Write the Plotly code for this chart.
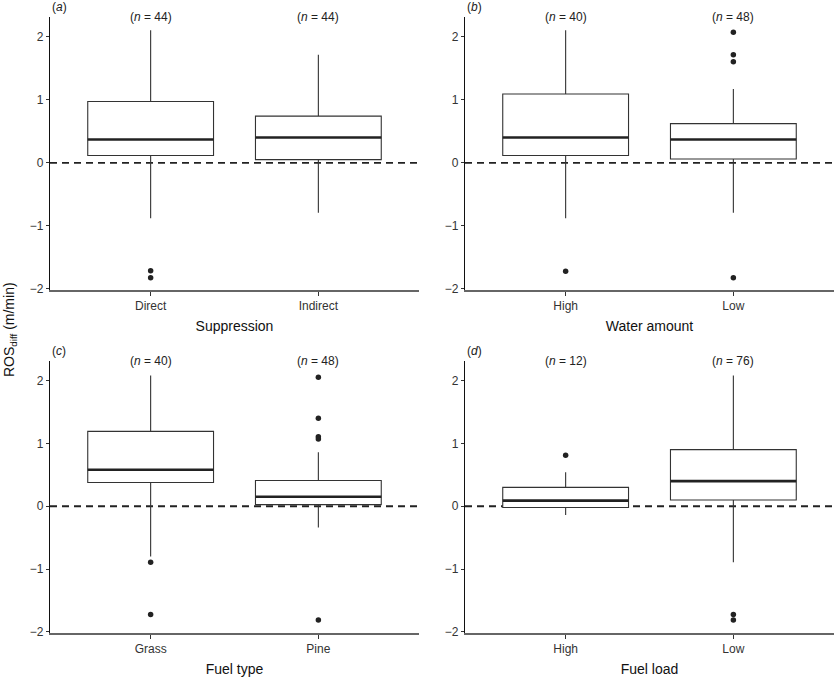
import plotly.graph_objects as go

# ---------------- data ----------------
panel_labels = ["(a)", "(b)", "(c)", "(d)"]
x_titles = ["Suppression", "Water amount", "Fuel type", "Fuel load"]
categories = [["Direct", "Indirect"], ["High", "Low"], ["Grass", "Pine"], ["High", "Low"]]
n_counts = [[44, 44], [40, 48], [40, 48], [12, 76]]
q1 = [[0.115, 0.05], [0.115, 0.06], [0.377, 0.026], [-0.02, 0.10]]
medians = [[0.37, 0.40], [0.40, 0.37], [0.58, 0.15], [0.09, 0.40]]
q3 = [[0.97, 0.74], [1.09, 0.62], [1.19, 0.41], [0.30, 0.90]]
lower_whisker = [[-0.88, -0.79], [-0.88, -0.79], [-0.80, -0.34], [-0.14, -0.89]]
upper_whisker = [[2.10, 1.71], [2.10, 1.17], [2.08, 0.86], [0.54, 2.08]]
outliers = [
    [[-1.71, -1.82], []],
    [[-1.72], [2.07, 1.71, 1.60, -1.82]],
    [[-0.89, -1.72], [2.05, 1.40, 1.105, 1.07, -1.81]],
    [[0.81], [-1.72, -1.81]],
]
y_ticks = [-2, -1, 0, 1, 2]
y_tick_text = ["\u22122", "\u22121", "0", "1", "2"]

# ---------------- layout constants ----------------
W, H = 835, 677
FONT = "Liberation Sans, Arial, Helvetica, sans-serif"
BOX_W = 0.75
x_dom = [[50 / W, 419 / W], [465 / W, 834 / W]]
y_dom = [[1 - 290 / H, 1 - 17 / H], [1 - 633 / H, 1 - 361 / H]]

fig = go.Figure()
layout = dict(
    width=W, height=H,
    margin=dict(l=0, r=0, t=0, b=0),
    plot_bgcolor="white", paper_bgcolor="white",
    showlegend=False,
    font=dict(family=FONT, size=12, color="#333"),
    annotations=[], shapes=[],
)

for i in range(4):
    row, col = divmod(i, 2)
    ax = "" if i == 0 else str(i + 1)
    xa, ya = "x" + ax, "y" + ax
    positions = [1, 2]
    for j, p in enumerate(positions):
        fig.add_trace(go.Box(
            x=[p], q1=[q1[i][j]], median=[medians[i][j]], q3=[q3[i][j]],
            lowerfence=[lower_whisker[i][j]], upperfence=[upper_whisker[i][j]],
            width=BOX_W, fillcolor="white", line=dict(color="#333", width=1.1),
            boxpoints=False, whiskerwidth=0, hoverinfo="skip",
            xaxis=xa, yaxis=ya,
        ))
        fig.add_trace(go.Scatter(
            x=[p - BOX_W / 2, p + BOX_W / 2], y=[medians[i][j], medians[i][j]],
            mode="lines", line=dict(color="#222", width=2.6),
            xaxis=xa, yaxis=ya, hoverinfo="skip",
        ))
        if outliers[i][j]:
            fig.add_trace(go.Scatter(
                x=[p] * len(outliers[i][j]), y=outliers[i][j], mode="markers",
                marker=dict(color="#222", size=5.5), xaxis=xa, yaxis=ya,
                hoverinfo="skip",
            ))
        layout["annotations"].append(dict(
            text=f"(<i>n</i> = {n_counts[i][j]})", x=p, y=1, xref=xa,
            yref=f"{ya} domain", yanchor="middle", showarrow=False,
            font=dict(size=12, color="#222", family=FONT),
        ))
    # panel label
    layout["annotations"].append(dict(
        text=f"(<i>{panel_labels[i][1]}</i>)", x=0, y=1, xref=f"{xa} domain",
        yref=f"{ya} domain", xanchor="left", yanchor="bottom", yshift=1,
        showarrow=False, font=dict(size=12, color="#222", family=FONT),
    ))
    # zero reference line
    layout["shapes"].append(dict(
        type="line", xref=f"{xa} domain", x0=0, x1=1, yref=ya, y0=0, y1=0,
        line=dict(color="#222", width=1.8, dash="7px,5px"), layer="below",
    ))
    layout["xaxis" + ax] = dict(
        domain=x_dom[col], anchor=ya, range=[0.4, 2.6],
        tickvals=positions, ticktext=categories[i],
        showline=True, linecolor="#666", linewidth=1.6,
        ticks="outside", ticklen=4, tickcolor="#333", tickwidth=1,
        showgrid=False, zeroline=False, automargin=False,
        tickfont=dict(size=12, color="#333", family=FONT),
        title=dict(text=x_titles[i], standoff=9,
                   font=dict(size=14, color="#111", family=FONT)),
    )
    layout["yaxis" + ax] = dict(
        domain=y_dom[row], anchor=xa, range=[-2.016, 2.31],
        tickvals=y_ticks, ticktext=y_tick_text,
        showline=True, linecolor="#111", linewidth=1.1,
        ticks="outside", ticklen=3, tickcolor="#333", tickwidth=1,
        showgrid=False, zeroline=False, automargin=False,
        tickfont=dict(size=12, color="#333", family=FONT),
    )

layout["annotations"].append(dict(
    text="ROS<sub>diff</sub> (m/min)", x=10 / W, y=1 - 330 / H, xref="paper",
    yref="paper", textangle=-90, showarrow=False, xanchor="center",
    yanchor="middle", font=dict(size=14, color="#111", family=FONT),
))

fig.update_layout(**layout)
fig.write_html("out.html", config={"displayModeBar": False},
               post_script="document.body.style.margin='0';")
